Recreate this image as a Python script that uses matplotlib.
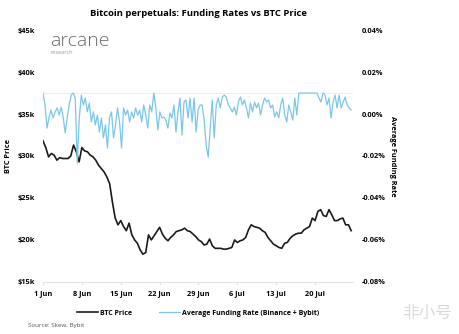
import matplotlib
matplotlib.use("Agg")
import matplotlib.pyplot as plt
import matplotlib.dates as mdates
from matplotlib.lines import Line2D
import pandas as pd

# BTC price, twice a day, in $k (1 Jun -> 26 Jul)
btc_price = [31.8, 31.0, 29.9, 30.3, 30.1, 29.5, 29.8, 29.7, 29.7, 29.7,
             30.0, 31.3, 30.5, 29.3, 31.0, 30.6, 30.5, 30.1, 29.9, 29.5,
             28.9, 28.5, 28.1, 27.5, 26.7, 24.5, 22.6, 21.8, 22.3, 21.6,
             21.1, 22.0, 20.6, 20.0, 19.6, 18.8, 18.3, 18.5, 20.6, 20.0,
             20.5, 21.0, 21.5, 20.7, 20.2, 19.9, 20.3, 20.6, 21.0, 21.1,
             21.2, 21.4, 21.1, 21.0, 20.7, 20.4, 20.0, 19.8, 19.4, 19.5,
             20.1, 19.3, 19.0, 19.0, 19.0, 18.9, 18.9, 19.0, 19.1, 20.0,
             19.7, 19.9, 20.0, 20.3, 21.2, 21.8, 21.6, 21.5, 21.4, 21.1,
             20.9, 20.3, 19.9, 19.5, 19.3, 19.1, 19.0, 19.6, 19.7, 20.2,
             20.5, 20.7, 20.8, 20.8, 21.2, 21.4, 21.6, 22.6, 22.3, 23.4,
             23.6, 22.9, 22.8, 23.6, 23.0, 22.3, 22.3, 22.5, 22.6, 21.8,
             21.8, 21.1]

# average funding rate (%), roughly every 8h
funding = [0.0100, 0.0043, -0.0067, -0.0014, 0.0019, -0.0019, 0.0010, 0.0029, -0.0005, 0.0033,
           -0.0014, -0.0090, -0.0019, 0.0043, 0.0090, 0.0100, 0.0076, -0.0233, -0.0019, 0.0090,
           0.0043, 0.0076, 0.0010, 0.0052, -0.0038, 0.0010, -0.0052, -0.0005, -0.0086, -0.0019,
           -0.0114, -0.0052, -0.0162, -0.0019, 0.0010, -0.0114, -0.0052, 0.0029, -0.0038, -0.0162,
           0.0029, -0.0005, 0.0019, -0.0038, 0.0010, -0.0019, 0.0029, -0.0005, 0.0019, -0.0038,
           0.0043, -0.0005, -0.0067, 0.0043, 0.0010, 0.0100, 0.0029, -0.0076, 0.0010, -0.0019,
           -0.0014, -0.0029, -0.0067, 0.0005, -0.0019, 0.0043, -0.0086, 0.0010, 0.0076, -0.0100,
           0.0057, 0.0067, -0.0019, 0.0076, -0.0038, 0.0076, -0.0086, 0.0019, 0.0043, 0.0043,
           -0.0029, -0.0148, -0.0205, -0.0067, 0.0067, -0.0114, 0.0043, 0.0076, 0.0029, 0.0081,
           0.0090, 0.0081, 0.0043, 0.0029, 0.0010, 0.0033, -0.0005, 0.0057, 0.0081, 0.0043,
           0.0067, 0.0029, -0.0019, 0.0052, 0.0010, 0.0057, 0.0029, 0.0052, -0.0005, 0.0043,
           0.0076, 0.0057, 0.0067, 0.0029, 0.0043, -0.0014, 0.0010, -0.0019, 0.0043, 0.0076,
           -0.0005, -0.0038, 0.0043, 0.0010, -0.0029, 0.0076, -0.0005, 0.0100, 0.0100, 0.0100,
           0.0100, 0.0100, 0.0100, 0.0100, 0.0100, 0.0100, 0.0100, 0.0076, 0.0057, 0.0100,
           0.0090, 0.0043, 0.0076, -0.0019, 0.0057, 0.0090, 0.0029, 0.0090, 0.0029, 0.0057,
           0.0081, 0.0043, 0.0029, 0.0019]

start, end = "2022-06-01", "2022-07-26 12:00"
price_dates = pd.date_range(start, end, periods=len(btc_price))
funding_dates = pd.date_range(start, end, periods=len(funding))

price_ticks = [15, 20, 25, 30, 35, 40, 45]
rate_ticks = [-0.08, -0.06, -0.04, -0.02, 0.00, 0.02, 0.04]

BLACK = "#1b1b1b"
BLUE = "#7cc6ea"

plt.rcParams["font.family"] = ["Open Sans", "DejaVu Sans"]

fig = plt.figure(figsize=(4.6, 3.34), dpi=100)
ax = fig.add_axes([0.0935, 0.156, 0.674, 0.754])
ax2 = ax.twinx()

ax.plot(price_dates, btc_price, color=BLACK, lw=1.2, zorder=3)
ax2.axhline(0.01, color="#e2f1f8", lw=0.8, zorder=1)
ax2.plot(funding_dates, funding, color=BLUE, lw=0.9, zorder=2)

ax.set_xlim(pd.Timestamp("2022-06-01"), pd.Timestamp("2022-07-26 20:00"))
ax.set_ylim(15, 45)
ax2.set_ylim(-0.08, 0.04)
ax.set_yticks(price_ticks)
ax.set_yticklabels([f"${v}k" for v in price_ticks])
ax2.set_yticks(rate_ticks)
ax2.set_yticklabels([f"{v:.2f}%" for v in rate_ticks])

ax.xaxis.set_major_locator(mdates.WeekdayLocator(byweekday=mdates.WE))
ax.xaxis.set_major_formatter(mdates.DateFormatter("%-d %b"))

for a in (ax, ax2):
    for s in ("top", "right", "left"):
        a.spines[s].set_visible(False)
    a.spines["bottom"].set_color("#e4e4e4")
    a.spines["bottom"].set_linewidth(0.8)
    a.tick_params(axis="y", length=0, labelsize=5.3, pad=6)
    for lab in a.get_yticklabels():
        lab.set_fontweight("bold")
ax2.spines["bottom"].set_visible(False)
ax.tick_params(axis="x", length=2, color="#e4e4e4", labelsize=5.3, pad=4)
for lab in ax.get_xticklabels():
    lab.set_fontweight("bold")

ax.set_ylabel("BTC Price", fontsize=5.3, fontweight="bold", labelpad=4)
ax2.set_ylabel("Average Funding Rate", fontsize=5.3, fontweight="bold",
               rotation=270, labelpad=8)
ax.set_title("Bitcoin perpetuals: Funding Rates vs BTC Price",
             fontsize=6.8, fontweight="bold", pad=10)

handles = [Line2D([], [], color=BLACK, lw=1.2),
           Line2D([], [], color=BLUE, lw=0.9)]
ax.legend(handles, ["BTC Price", "Average Funding Rate (Binance + Bybit)"],
          loc="upper center", bbox_to_anchor=(0.5, -0.085), ncol=2,
          frameon=False, prop={"size": 5.0, "weight": "bold"},
          handlelength=3.0, columnspacing=4, handletextpad=0.2)

# logo + source + watermark
fig.text(50 / 460, 1 - 41 / 334, "arcane", fontsize=14, color="#6b6b6b",
         va="center", ha="left", fontweight="light")
fig.text(51 / 460, 1 - 53 / 334, "research", fontsize=4, color="#9a9a9a",
         va="center", ha="left")
fig.text(28 / 460, 1 - 325 / 334, "Source: Skew, Bybit", fontsize=4.5,
         color="#555555", va="center", ha="left")
fig.text(452 / 460, 1 - 313 / 334, "非小号", fontsize=12, color="#dadada",
         va="center", ha="right", family=["Noto Sans CJK SC", "DejaVu Sans"])

fig.savefig("out.png", dpi=100)
